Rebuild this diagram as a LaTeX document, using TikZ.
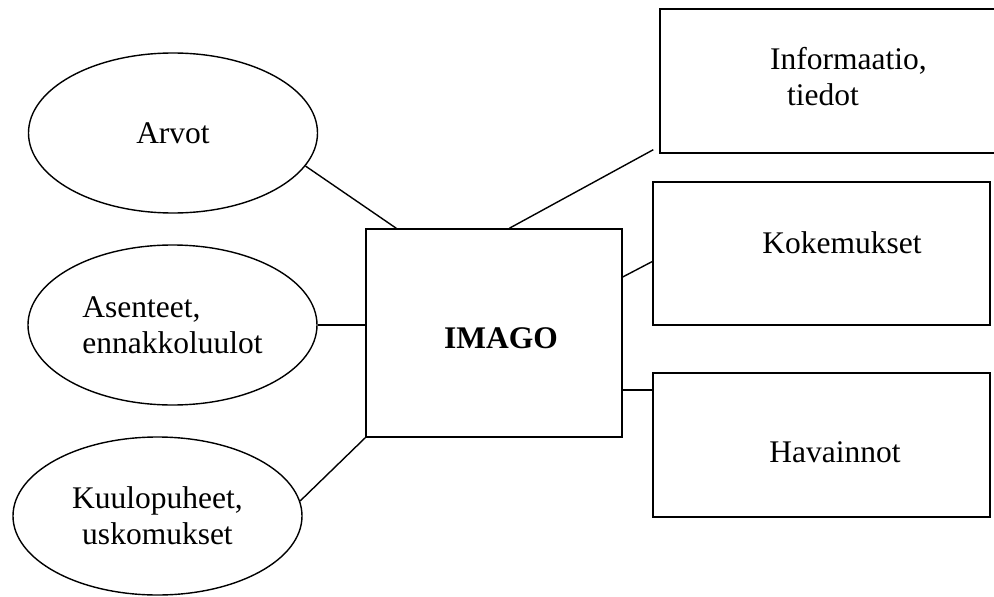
\documentclass[tikz,border=0pt]{standalone}
\usepackage{fontspec}
\setmainfont{Liberation Serif}
\usetikzlibrary{shapes.geometric}

\begin{document}
\begin{tikzpicture}[
  x=1pt, y=-1pt,
  every node/.style={font=\fontsize{31.5}{36}\selectfont},
  oval/.style={draw, ellipse, line width=1.4pt, inner sep=0pt, minimum width=289pt, minimum height=160pt},
  box/.style={draw, rectangle, line width=1.4pt, inner sep=0pt},
  wire/.style={line width=1.4pt}
]
\useasboundingbox (0,0) rectangle (994,597);

% Ellipses on the left
\node[oval] (arvot) at (173,133) {Arvot};
\node[oval, align=left] (asenteet) at (172.5,325) {Asenteet,\\ennakkoluulot};
\node[oval, align=center, minimum height=158pt] (kuulo) at (157.5,516) {Kuulopuheet,\\uskomukset};

% Centre box
\node[box, minimum width=256pt, minimum height=208pt,
  label={[xshift=7pt, yshift=-5pt]center:\textbf{IMAGO}}] (imago) at (494,333) {};

% Boxes on the right
\node[box, minimum width=345pt, minimum height=144pt,
  label={[align=left, xshift=16pt, yshift=4pt]center:Informaatio,\\\hspace*{17pt}tiedot}] (info) at (832.5,81) {};
\node[box, minimum width=337pt, minimum height=143pt,
  label={[xshift=20.5pt, yshift=11pt]center:Kokemukset}] (koke) at (821.5,253.5) {};
\node[box, minimum width=337pt, minimum height=144pt,
  label={[xshift=13.5pt, yshift=-7.5pt]center:Havainnot}] (havain) at (821.5,445) {};

% Loose ends
\coordinate (infoend) at ([xshift=-6pt, yshift=4pt]info.south west);
\coordinate (hv) at ([yshift=-57pt]imago.east);

% Connectors
\draw[wire] (arvot.-14) -- ([xshift=31pt]imago.north west);
\draw[wire] (asenteet.east) -- (asenteet.east -| imago.west);
\draw[wire] (kuulo.6) -- (imago.south west);
\draw[wire] ([xshift=144pt]imago.north west) -- (infoend);
\draw[wire] ([yshift=56pt]imago.east) -- ([yshift=-8pt]koke.west);
\draw[wire] (hv) -- (hv -| havain.west);

\end{tikzpicture}
\end{document}
